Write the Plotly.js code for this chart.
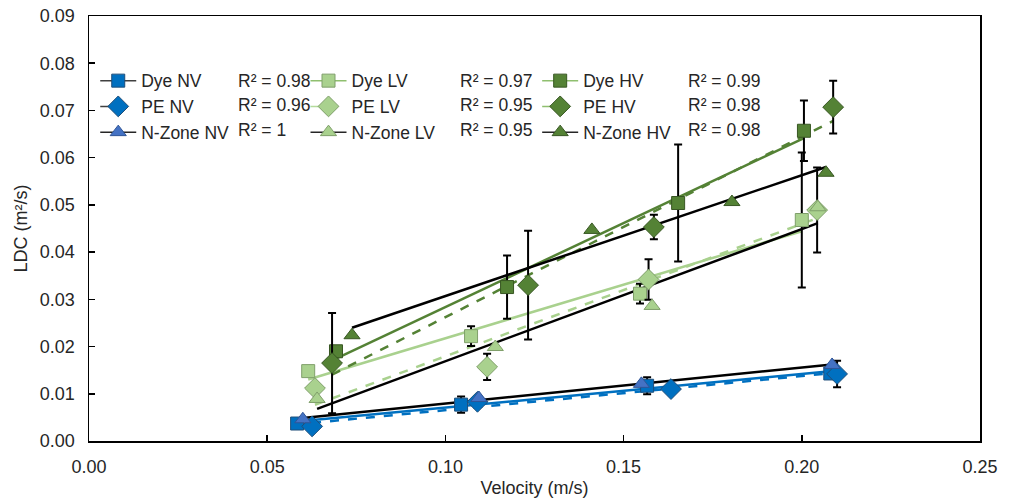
<!DOCTYPE html>
<html>
<head>
<meta charset="utf-8">
<script src="https://cdn.plot.ly/plotly-3.0.1.min.js"></script>
<style>html,body{margin:0;padding:0;background:#fff;}#chart{width:1014px;height:498px;}</style>
</head>
<body>
<div id="chart"></div>
<script>
// ---- Data ----
const dyeNV_x = [0.0584, 0.1044, 0.1566, 0.2080];
const dyeNV_y = [0.0037, 0.0077, 0.0117, 0.0143];
const dyeNV_err = [0.0004, 0.0017, 0.0018, 0.0010];

const peNV_x = [0.0626, 0.1090, 0.1633, 0.2099];
const peNV_y = [0.0031, 0.0083, 0.0110, 0.0142];
const peNV_err = [0.0003, 0.0008, 0.0006, 0.0028];

const nzNV_x = [0.0600, 0.1094, 0.1550, 0.2085];
const nzNV_y = [0.0046, 0.0091, 0.0121, 0.0161];

const dyeLV_x = [0.0615, 0.1072, 0.1546, 0.2000];
const dyeLV_y = [0.0148, 0.0222, 0.0312, 0.0468];
const dyeLV_err = [0.0005, 0.0021, 0.0021, 0.0143];

const peLV_x = [0.0634, 0.1117, 0.1570, 0.2043];
const peLV_y = [0.0112, 0.0157, 0.0342, 0.0489];
const peLV_err = [0.0005, 0.0028, 0.0043, 0.0090];

const nzLV_x = [0.0640, 0.1140, 0.1580, 0.2045];
const nzLV_y = [0.0089, 0.0199, 0.0286, 0.0495];

const dyeHV_x = [0.0693, 0.1173, 0.1653, 0.2006];
const dyeHV_y = [0.0190, 0.0326, 0.0504, 0.0657];
const dyeHV_err = [0.0008, 0.0067, 0.0124, 0.0064];

const peHV_x = [0.0682, 0.1232, 0.1585, 0.2088];
const peHV_y = [0.0165, 0.0330, 0.0453, 0.0707];
const peHV_err = [0.0106, 0.0115, 0.0026, 0.0056];

const nzHV_x = [0.0738, 0.1411, 0.1804, 0.2068];
const nzHV_y = [0.0224, 0.0447, 0.0506, 0.0568];

const seriesNames = ['Dye NV','PE NV','N-Zone NV','Dye LV','PE LV','N-Zone LV','Dye HV','PE HV','N-Zone HV'];
const r2Labels = ['R² = 0.98','R² = 0.96','R² = 1','R² = 0.97','R² = 0.95','R² = 0.95','R² = 0.99','R² = 0.98','R² = 0.98'];

// ---- Styles ----
const FONT = 'Liberation Sans, Arial, sans-serif';
const TXT = '#262626';
const BLUE = '#0070C0', BLUE_TRI = '#4472C4';
const LGREEN = '#A9D18E', DGREEN = '#548235';

const series = [
  {x: dyeNV_x, y: dyeNV_y, err: dyeNV_err, sym: 'square', size: 13, fill: BLUE, edge: '#1F4E79', trend: BLUE, dash: 'solid', leg: '#404040', legDash: 'solid'},
  {x: peNV_x, y: peNV_y, err: peNV_err, sym: 'diamond', size: 16, fill: BLUE, edge: '#1F4E79', trend: BLUE, dash: 'dash', leg: '#404040', legDash: 'dash'},
  {x: nzNV_x, y: nzNV_y, err: null, sym: 'triangle-up', size: 14, fill: BLUE_TRI, edge: '#2F5597', trend: '#000000', dash: 'solid', leg: '#262626', legDash: 'solid'},
  {x: dyeLV_x, y: dyeLV_y, err: dyeLV_err, sym: 'square', size: 13, fill: LGREEN, edge: '#7F9F6A', trend: LGREEN, dash: 'solid', leg: '#8FBF6F', legDash: 'solid'},
  {x: peLV_x, y: peLV_y, err: peLV_err, sym: 'diamond', size: 16, fill: LGREEN, edge: '#7F9F6A', trend: LGREEN, dash: 'dash', leg: '#B5DB9C', legDash: 'dash'},
  {x: nzLV_x, y: nzLV_y, err: null, sym: 'triangle-up', size: 14, fill: LGREEN, edge: '#7F9F6A', trend: '#000000', dash: 'solid', leg: '#262626', legDash: 'solid'},
  {x: dyeHV_x, y: dyeHV_y, err: dyeHV_err, sym: 'square', size: 13, fill: DGREEN, edge: '#385723', trend: DGREEN, dash: 'solid', leg: '#8FBF6F', legDash: 'solid'},
  {x: peHV_x, y: peHV_y, err: peHV_err, sym: 'diamond', size: 16, fill: DGREEN, edge: '#385723', trend: DGREEN, dash: 'dash', leg: '#8FBF6F', legDash: 'dash'},
  {x: nzHV_x, y: nzHV_y, err: null, sym: 'triangle-up', size: 14, fill: DGREEN, edge: '#385723', trend: '#000000', dash: 'solid', leg: '#262626', legDash: 'solid'}
];

function linFit(xs, ys) {
  const n = xs.length;
  const mx = xs.reduce((a, b) => a + b, 0) / n;
  const my = ys.reduce((a, b) => a + b, 0) / n;
  let sxy = 0, sxx = 0;
  for (let i = 0; i < n; i++) { sxy += (xs[i] - mx) * (ys[i] - my); sxx += (xs[i] - mx) ** 2; }
  const m = sxy / sxx;
  return {m: m, b: my - m * mx};
}

const traces = [];
// trendlines first (underneath markers)
series.forEach((s, i) => {
  const f = linFit(s.x, s.y);
  const x0 = Math.min(...s.x), x1 = Math.max(...s.x);
  traces.push({
    x: [x0, x1], y: [f.m * x0 + f.b, f.m * x1 + f.b],
    mode: 'lines', type: 'scatter', showlegend: false, hoverinfo: 'skip',
    line: {color: s.trend, width: 2.5, dash: s.dash}
  });
});
// data markers with error bars
series.forEach((s, i) => {
  const t = {
    x: s.x, y: s.y, mode: 'markers', type: 'scatter', showlegend: false, name: seriesNames[i],
    marker: {symbol: s.sym, size: s.size, color: s.fill, line: {color: s.edge, width: 1}}
  };
  if (s.err) t.error_y = {type: 'data', array: s.err, visible: true, color: '#000000', thickness: 2, width: 4};
  traces.push(t);
});
// legend entries
const legendIds = ['legend', 'legend2', 'legend3'];
series.forEach((s, i) => {
  traces.push({
    x: [null], y: [null], mode: 'lines+markers', type: 'scatter', name: seriesNames[i],
    legend: legendIds[Math.floor(i / 3)], showlegend: true,
    line: {color: s.leg, width: 1.5, dash: s.legDash},
    marker: {symbol: s.sym, size: s.size, color: s.fill, line: {color: s.edge, width: 1}}
  });
});

const legendBase = {
  orientation: 'v', xanchor: 'left', yanchor: 'top', bgcolor: 'rgba(0,0,0,0)',
  itemwidth: 36,
  font: {family: FONT, size: 17.5, color: TXT}, itemclick: false, itemdoubleclick: false
};
const legY = 0.89;
const layout = {
  width: 1014, height: 498,
  margin: {l: 89, r: 34, t: 16, b: 57},
  paper_bgcolor: '#ffffff', plot_bgcolor: '#ffffff',
  font: {family: FONT, size: 17.5, color: TXT},
  xaxis: {
    range: [0, 0.25], dtick: 0.05, tick0: 0, tickformat: '.2f',
    showgrid: false, zeroline: false, showline: true, linecolor: '#000000', linewidth: 1.5, mirror: true,
    ticks: 'inside', ticklen: 6, tickwidth: 1.5, tickcolor: '#000000', ticklabelstandoff: 9,
    tickfont: {family: FONT, size: 18, color: TXT},
    title: {text: 'Velocity (m/s)', font: {family: FONT, size: 18, color: TXT}, standoff: 5}
  },
  yaxis: {
    range: [0, 0.09], dtick: 0.01, tick0: 0, tickformat: '.2f',
    showgrid: false, zeroline: false, showline: true, linecolor: '#000000', linewidth: 1.5, mirror: true,
    ticks: 'inside', ticklen: 6, tickwidth: 1.5, tickcolor: '#000000', ticklabelstandoff: 9,
    tickfont: {family: FONT, size: 18, color: TXT},
    title: {text: 'LDC (m²/s)', font: {family: FONT, size: 18, color: TXT}, standoff: 7}
  },
  legend: Object.assign({}, legendBase, {x: 0.007, y: legY}),
  legend2: Object.assign({}, legendBase, {x: 0.243, y: legY}),
  legend3: Object.assign({}, legendBase, {x: 0.503, y: legY}),
  annotations: r2Labels.map((txt, i) => ({
    text: txt, xref: 'paper', yref: 'paper',
    x: [0.165, 0.414, 0.670][Math.floor(i / 3)],
    y: [0.846, 0.791, 0.732][i % 3],
    xanchor: 'left', yanchor: 'middle', showarrow: false,
    font: {family: FONT, size: 17.5, color: TXT}
  })),
  showlegend: true
};

Plotly.newPlot('chart', traces, layout, {displayModeBar: false, staticPlot: true});
</script>
</body>
</html>
